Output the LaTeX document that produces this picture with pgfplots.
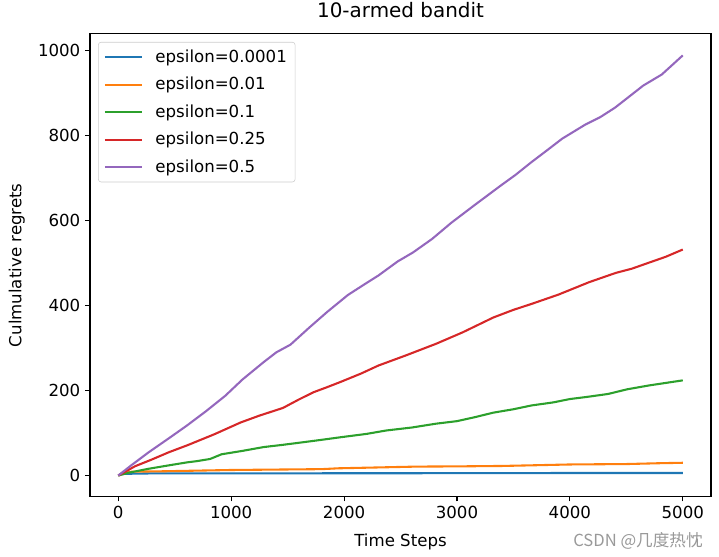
\documentclass[border=0pt]{standalone}
\usepackage{pgfplots}
\pgfplotsset{compat=1.18}
\usepackage{fontspec}
\setmainfont{DejaVu Sans}
\newfontfamily\cjk{Noto Sans CJK SC}
\definecolor{C0}{HTML}{1F77B4}
\definecolor{C1}{HTML}{FF7F0E}
\definecolor{C2}{HTML}{2CA02C}
\definecolor{C3}{HTML}{D62728}
\definecolor{C4}{HTML}{9467BD}
\begin{document}
\begin{tikzpicture}
\begin{axis}[
  scale only axis,
  width=447bp, height=333bp,
  xmin=-250, xmax=5250, ymin=-49.5, ymax=1039.5,
  xtick={0,1000,2000,3000,4000,5000},
  ytick={0,200,400,600,800,1000},
  tick align=outside, tick pos=left,
  major tick length=3.5bp,
  every tick/.style={black, line width=0.8bp},
  axis line style={line width=0.8bp},
  /pgf/number format/assume math mode=true,
  /pgf/number format/1000 sep={},
  tick label style={font=\fontsize{12}{14}\selectfont},
  title={10-armed bandit},
  title style={font=\fontsize{14.4}{17}\selectfont, at={(rel axis cs:0.5,1.0346)}, anchor=center},
  xlabel={Time Steps},
  ylabel={Culmulative regrets},
  label style={font=\fontsize{12}{14}\selectfont},
  xlabel style={at={(rel axis cs:0.5,-0.097)}, anchor=center},
  ylabel style={at={(rel axis cs:-0.118,0.5)}, anchor=center},
  legend style={font=\fontsize{12}{14}\selectfont, draw=black!20, rounded corners=2bp, fill=white, fill opacity=0.8, text opacity=1, at={(0.0129,0.9827)}, anchor=north west, row sep=5.2bp, inner xsep=4bp, inner ysep=3.5bp, /tikz/every odd column/.append style={column sep=7bp}},
  legend cell align=left,
  legend image code/.code={\draw[#1, line width=1.5bp] (0cm,0cm) -- (0.94cm,0cm);},
  every axis plot/.append style={line width=1.5bp},
]
\addplot[C0] coordinates {(0,0) (20,3) (60,4) (300,5) (1000,5) (2000,5.3) (3000,5.5) (3800,5.6) (3850,6) (5000,6)};
\addlegendentry{epsilon=0.0001}
\addplot[C1] coordinates {(0,0) (40,6) (120,9) (400,10) (800,12) (1000,13) (1400,14) (1800,15) (1950,17) (2300,19) (2644,21) (3000,21.5) (3400,22.5) (3661,24) (4000,26) (4500,27) (4800,29) (5000,30)};
\addlegendentry{epsilon=0.01}
\addplot[C2] coordinates {(0,0) (100,7) (271,16) (450,24) (610,31) (700,34) (814,39) (915,50) (1100,58) (1288,67) (1450,72) (1627,78) (1800,84) (1966,90) (2200,98) (2373,106) (2600,113) (2814,122) (3000,128) (3153,137) (3322,148) (3500,156) (3661,165) (3850,172) (4000,180) (4150,185) (4339,192) (4508,203) (4700,212) (4850,218) (5000,224)};
\addlegendentry{epsilon=0.1}
\addplot[C3] coordinates {(0,0) (150,22) (300,38) (450,55) (610,71) (850,97) (1085,125) (1250,141) (1458,159) (1600,179) (1729,196) (1850,208) (1966,220) (2150,240) (2305,259) (2550,283) (2814,310) (3050,337) (3322,372) (3500,390) (3661,404) (3900,426) (4169,455) (4407,477) (4550,487) (4678,499) (4850,515) (5000,532)};
\addlegendentry{epsilon=0.25}
\addplot[C4] coordinates {(0,0) (120,25) (271,55) (450,88) (610,118) (780,152) (949,188) (1100,226) (1288,267) (1400,290) (1525,308) (1695,349) (1850,385) (2034,425) (2180,450) (2305,471) (2475,504) (2610,525) (2780,557) (2950,595) (3153,636) (3390,683) (3520,708) (3661,738) (3800,766) (3932,793) (4136,826) (4271,844) (4400,866) (4530,893) (4650,918) (4814,944) (5000,989)};
\addlegendentry{epsilon=0.5}
\coordinate (wm) at (rel axis cs:0.987,-0.097);
\coordinate (bl) at (rel axis cs:-0.145,-0.1296);
\coordinate (tr) at (rel axis cs:1.0129,1.0734);
\end{axis}
\node[anchor=east, text=black!40, font=\cjk\fontsize{12}{14}\selectfont, inner sep=0pt] at (wm) {CSDN @几度热忱};
\pgfresetboundingbox
\path[use as bounding box] (bl) rectangle (tr);
\end{tikzpicture}
\end{document}
